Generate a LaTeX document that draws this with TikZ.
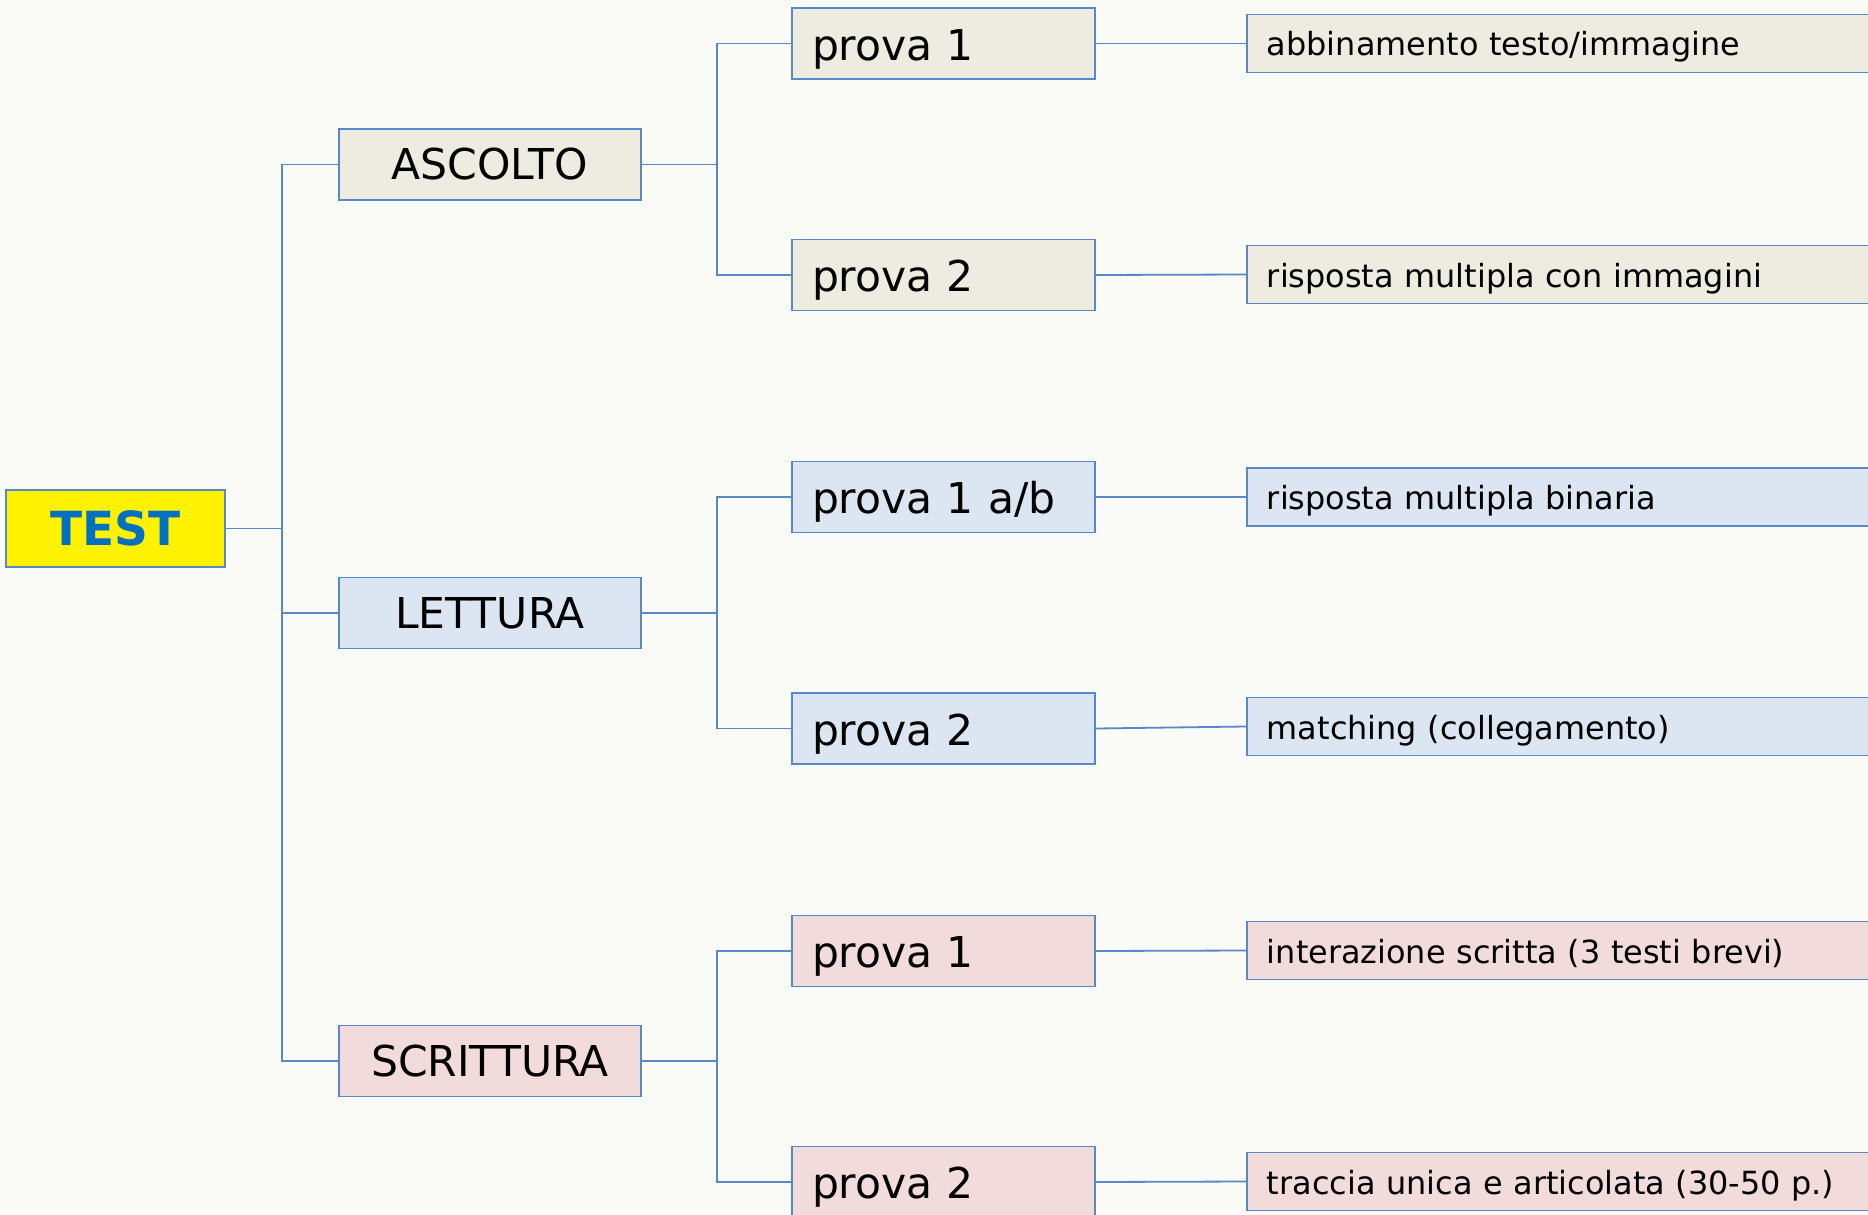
\documentclass[tikz,border=0pt]{standalone}
\usepackage{fontspec}
\setmainfont{DejaVu Sans}
\definecolor{bg}{HTML}{FAFAF6}
\definecolor{edge}{HTML}{5A87C5}
\definecolor{beige}{HTML}{EEEBE0}
\definecolor{lblue}{HTML}{DCE6F2}
\definecolor{lpink}{HTML}{F2DCDB}
\definecolor{testblue}{HTML}{0070C0}
\begin{document}
\begin{tikzpicture}[x=1pt,y=-1pt,
  box/.style={draw=edge,line width=1.8pt,inner sep=0pt},
  link/.style={draw=edge,line width=1.8pt},
  topbox/.style={box,minimum width=219pt,minimum height=77pt,fill=yellow,
    font=\fontsize{47}{50}\selectfont\bfseries,text=testblue},
  catbox/.style={box,minimum width=302pt,minimum height=71pt,
    font=\fontsize{42.5}{45}\selectfont},
  provabox/.style={box,minimum width=303pt,minimum height=71pt,text width=263pt,
    align=left,inner xsep=20pt,text height=36pt,text depth=3pt,
    font=\fontsize{42.5}{45}\selectfont},
  descbox/.style={box,minimum width=660pt,minimum height=58pt,text width=620pt,
    align=left,inner xsep=20pt,text height=28pt,text depth=3pt,
    font=\fontsize{31.9}{34}\selectfont},
]
\clip (0,0) rectangle (1868,1215);
\fill[bg] (0,0) rectangle (1868,1215);
\useasboundingbox (0,0) rectangle (1868,1215);

% level 0
\node[topbox] (test) at (115.5,528.5) {TEST};

% level 1
\node[catbox,fill=beige] (asc) at (490,164.5) {ASCOLTO};
\node[catbox,fill=lblue] (let) at (490,613) {LETTURA};
\node[catbox,fill=lpink] (scr) at (490,1061) {SCRITTURA};

% level 2
\node[provabox,fill=beige] (a1) at (943.5,43.5) {prova 1};
\node[provabox,fill=beige] (a2) at (943.5,275) {prova 2};
\node[provabox,fill=lblue] (l1) at (943.5,497) {prova 1 a/b};
\node[provabox,fill=lblue] (l2) at (943.5,728.5) {prova 2};
\node[provabox,fill=lpink] (s1) at (943.5,951) {prova 1};
\node[provabox,fill=lpink] (s2) at (943.5,1182) {prova 2};

% level 3
\node[descbox,fill=beige,anchor=west] (da1) at (1246,43.5) {abbinamento testo/immagine};
\node[descbox,fill=beige,anchor=west] (da2) at (1246,274.5) {risposta multipla con immagini};
\node[descbox,fill=lblue,anchor=west] (dl1) at (1246,497) {risposta multipla binaria};
\node[descbox,fill=lblue,anchor=west] (dl2) at (1246,726.5) {matching (collegamento)};
\node[descbox,fill=lpink,anchor=west] (ds1) at (1246,950.5) {interazione scritta (3 testi brevi)};
\node[descbox,fill=lpink,anchor=west] (ds2) at (1246,1181.5) {traccia unica e articolata (30-50 p.)};

% junctions
\coordinate (j0) at (282,528.5);
\coordinate (ja) at (717,164.5);
\coordinate (jl) at (717,613);
\coordinate (js) at (717,1061);

% connectors
\draw[link] (test.east) -- (j0);
\draw[link] (j0) |- (asc.west);
\draw[link] (j0) |- (let.west);
\draw[link] (j0) |- (scr.west);

\draw[link] (asc.east) -- (ja);
\draw[link] (ja) |- (a1.west);
\draw[link] (ja) |- (a2.west);
\draw[link] (let.east) -- (jl);
\draw[link] (jl) |- (l1.west);
\draw[link] (jl) |- (l2.west);
\draw[link] (scr.east) -- (js);
\draw[link] (js) |- (s1.west);
\draw[link] (js) |- (s2.west);

\draw[link] (a1.east) -- (da1.west);
\draw[link] (a2.east) -- (da2.west);
\draw[link] (l1.east) -- (dl1.west);
\draw[link] (l2.east) -- (dl2.west);
\draw[link] (s1.east) -- (ds1.west);
\draw[link] (s2.east) -- (ds2.west);
\end{tikzpicture}
\end{document}
